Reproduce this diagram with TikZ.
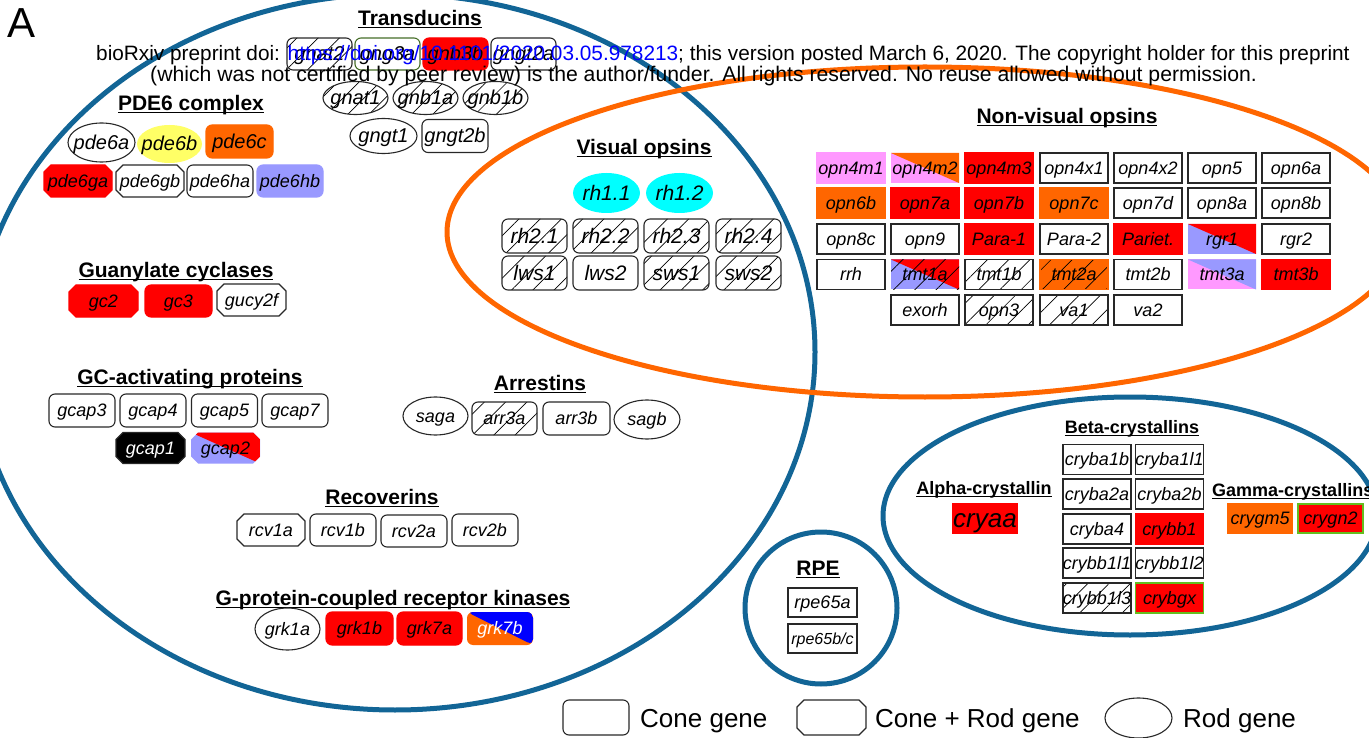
\documentclass[tikz,border=0pt]{standalone}
\usepackage{fontspec}
\setmainfont{Liberation Sans}
\usetikzlibrary{shapes.geometric,shapes.misc,patterns.meta}
\definecolor{eblue}{RGB}{18,101,150}
\definecolor{eorange}{RGB}{255,102,0}
\definecolor{gred}{RGB}{255,0,0}
\definecolor{glav}{RGB}{153,153,255}
\definecolor{gpink}{RGB}{255,153,255}
\definecolor{gcyan}{RGB}{0,255,255}
\definecolor{gyellow}{RGB}{255,255,102}
\definecolor{gorange}{RGB}{255,102,0}
\definecolor{gblue}{RGB}{0,0,255}
\definecolor{bord}{RGB}{40,40,40}
\definecolor{dkgreen}{RGB}{70,110,40}
\definecolor{ltgreen}{RGB}{100,190,30}
\definecolor{linkblue}{RGB}{0,0,255}
\newcommand{\gn}[1]{\makebox[0pt][c]{#1}}
\newcommand{\ulbox}[1]{\setbox0\hbox{#1}\rlap{\rule[-0.15em]{\wd0}{0.075em}}\box0}
\newcommand{\hatchfill}{\fill[pattern={Lines[angle=45,distance=15pt,line width=0.7pt]}] (path picture bounding box.south west) rectangle (path picture bounding box.north east);}
\tikzset{
  fA/.style={font=\itshape\fontsize{18}{18}\selectfont, text height=16.3pt, text depth=3.8pt},
  fB/.style={font=\itshape\fontsize{20}{20}\selectfont, text height=18.1pt, text depth=4.2pt},
  fC/.style={font=\itshape\fontsize{21}{21}\selectfont, text height=19pt, text depth=4.5pt},
  fD/.style={font=\itshape\fontsize{16}{16}\selectfont, text height=14.5pt, text depth=3.4pt},
  fE/.style={font=\itshape\fontsize{26}{26}\selectfont, text height=23.5pt, text depth=5.5pt},
  gene/.style={inner sep=0pt, minimum width=66pt, minimum height=32pt, fA, line width=1.1pt},
  cone/.style={gene, rectangle, rounded corners=6pt, draw=bord},
  conerod/.style={gene, chamfered rectangle, chamfered rectangle xsep=7pt, draw=bord},
  rod/.style={gene, ellipse, draw=bord},
  sq/.style={gene, rectangle, draw=bord, minimum width=68pt, minimum height=30pt},
  hatch/.style={path picture={\hatchfill}},
  colfill/.style={fill=#1, draw=#1},
  twotone/.style 2 args={fill=#1, draw=none, path picture={\fill[#2] (path picture bounding box.north west) -- (path picture bounding box.north east) -- (path picture bounding box.south east) -- cycle;}},
  grouptitle/.style={inner sep=0pt, font=\bfseries\fontsize{21}{21}\selectfont, text height=19pt, text depth=4.5pt},
  smalltitle/.style={inner sep=0pt, font=\bfseries\fontsize{18}{18}\selectfont, text height=16.3pt, text depth=3.8pt},
  legtext/.style={inner sep=0pt, font=\fontsize{26}{26}\selectfont, anchor=base west},
}
\begin{document}
\begin{tikzpicture}[x=1pt,y=-1pt]
\useasboundingbox (0,0) rectangle (1369,738);
\clip (0,0) rectangle (1369,738);
\fill[white] (0,0) rectangle (1369,738);

% group outlines
\draw[eblue,line width=5pt] (395,352) ellipse [x radius=420, y radius=358];
\draw[eorange,line width=5pt] (925,232) ellipse [x radius=478, y radius=165];
\draw[eblue,line width=5pt] (1130,516) ellipse [x radius=247, y radius=119];
\draw[eblue,line width=5pt] (821,608) circle [radius=76];

% Transducins
\node[grouptitle] (tTrans) at (420,18) {\ulbox{Transducins}};
\node[cone,hatch,fB,minimum width=65pt] (gnat2) at (319.5,54) {\gn{gnat2}};
\node[cone,draw=dkgreen,fB,minimum width=65pt] (gng3a) at (387.5,54) {\gn{gng3a}};
\node[cone,colfill=gred,fB,minimum width=65pt] (gnb3b) at (455.5,54) {\gn{gnb3b}};
\node[cone,fB,minimum width=65pt] (gngt2a) at (523.5,54) {\gn{gngt2a}};
\node[rod,hatch,fB,minimum width=65pt,minimum height=33pt] (gnat1) at (355.5,98) {\gn{gnat1}};
\node[rod,hatch,fB,minimum width=65pt,minimum height=33pt] (gnb1a) at (425.5,98) {\gn{gnb1a}};
\node[rod,hatch,fB,minimum width=65pt,minimum height=33pt] (gnb1b) at (495.5,98) {\gn{gnb1b}};
\node[rod,fB,minimum width=67pt,minimum height=35pt] (gngt1) at (383.5,136) {\gn{gngt1}};
\node[cone,fB,minimum height=33pt] (gngt2b) at (455,136) {\gn{gngt2b}};

% PDE6
\node[grouptitle] (tPde) at (191,103) {\ulbox{PDE6 complex}};
\node[rod,fB,minimum width=67pt,minimum height=39pt] (pde6a) at (101.5,142.5) {\gn{pde6a}};
\node[rod,fill=gyellow,draw=none,fB,minimum width=65pt,minimum height=38pt] (pde6b) at (169.5,144) {\gn{pde6b}};
\node[cone,colfill=gorange,fB,minimum width=67pt,minimum height=33pt] (pde6c) at (239.5,141.5) {\gn{pde6c}};
\node[conerod,colfill=gred,minimum width=68pt] (pde6ga) at (78,181) {\gn{pde6ga}};
\node[conerod,minimum width=68pt] (pde6gb) at (150,181) {\gn{pde6gb}};
\node[cone] (pde6ha) at (220,181) {\gn{pde6ha}};
\node[cone,colfill=glav] (pde6hb) at (290,181) {\gn{pde6hb}};

% Guanylate cyclases
\node[grouptitle] (tGc) at (176,270) {\ulbox{Guanylate cyclases}};
\node[conerod,colfill=gred,minimum width=69pt] (gc2) at (103.5,301) {\gn{gc2}};
\node[cone,colfill=gred,minimum width=67pt] (gc3) at (178.5,301) {\gn{gc3}};
\node[conerod,minimum width=69pt] (gucy2f) at (251.5,300) {\gn{gucy2f}};

% GC-activating proteins
\node[grouptitle] (tGcap) at (190,377) {\ulbox{GC-activating proteins}};
\node[cone,minimum height=33pt] (gcap3) at (82,410.5) {\gn{gcap3}};
\node[cone,minimum height=33pt] (gcap4) at (153,410.5) {\gn{gcap4}};
\node[cone,minimum height=33pt] (gcap5) at (224.5,410.5) {\gn{gcap5}};
\node[cone,minimum height=33pt] (gcap7) at (295,410.5) {\gn{gcap7}};
\node[conerod,fill=black,text=white,minimum width=69pt,minimum height=31pt] (gcap1) at (150.5,448) {\gn{gcap1}};
\node[conerod,twotone={glav}{gred},minimum width=69pt,minimum height=31pt] (gcap2) at (225.5,448) {\gn{gcap2}};

% Arrestins
\node[grouptitle] (tArr) at (540,383) {\ulbox{Arrestins}};
\node[rod,minimum width=65pt,minimum height=38pt] (saga) at (435.5,416) {\gn{saga}};
\node[cone,hatch,minimum width=65pt,minimum height=33pt] (arr3a) at (504.5,418.5) {\gn{arr3a}};
\node[cone,minimum width=67pt,minimum height=33pt] (arr3b) at (576.5,418.5) {\gn{arr3b}};
\node[rod,minimum width=66pt,minimum height=39pt] (sagb) at (647,419.5) {\gn{sagb}};

% Recoverins
\node[grouptitle] (tRcv) at (382,497) {\ulbox{Recoverins}};
\node[conerod,minimum width=68pt] (rcv1a) at (271,530) {\gn{rcv1a}};
\node[cone] (rcv1b) at (343,530) {\gn{rcv1b}};
\node[cone] (rcv2a) at (414,531) {\gn{rcv2a}};
\node[cone] (rcv2b) at (485,530) {\gn{rcv2b}};

% GRK
\node[grouptitle] (tGrk) at (393,598) {\ulbox{G-protein-coupled receptor kinases}};
\node[rod,minimum width=65pt,minimum height=42pt] (grk1a) at (287.5,629) {\gn{grk1a}};
\node[cone,colfill=gred,minimum width=67pt,minimum height=33pt] (grk1b) at (359.5,628.5) {\gn{grk1b}};
\node[cone,colfill=gred,minimum width=65pt,minimum height=33pt] (grk7a) at (429.5,628.5) {\gn{grk7a}};
\node[cone,twotone={gorange}{gblue},text=white,minimum width=66pt,minimum height=33pt] (grk7b) at (500,628.5) {\gn{grk7b}};

% Visual opsins
\node[grouptitle] (tVis) at (644,147) {\ulbox{Visual opsins}};
\node[rod,fill=gcyan,draw=none,fC,minimum width=67pt,minimum height=40pt] (rhAa) at (606.5,193) {\gn{rh1.1}};
\node[rod,fill=gcyan,draw=none,fC,minimum width=67pt,minimum height=40pt] (rhAb) at (679.5,193) {\gn{rh1.2}};
\node[cone,hatch,fC,minimum width=65pt,minimum height=34pt] (rhBa) at (534.5,236) {\gn{rh2.1}};
\node[cone,hatch,fC,minimum width=65pt,minimum height=34pt] (rhBb) at (605.5,236) {\gn{rh2.2}};
\node[cone,hatch,fC,minimum width=65pt,minimum height=34pt] (rhBc) at (676.5,236) {\gn{rh2.3}};
\node[cone,hatch,fC,minimum width=65pt,minimum height=34pt] (rhBd) at (748.5,236) {\gn{rh2.4}};
\node[cone,hatch,fC,minimum width=65pt,minimum height=34pt] (lws1) at (534.5,273) {\gn{lws1}};
\node[cone,fC,minimum width=65pt,minimum height=34pt] (lws2) at (605.5,273) {\gn{lws2}};
\node[cone,hatch,fC,minimum width=65pt,minimum height=34pt] (sws1) at (676.5,273) {\gn{sws1}};
\node[cone,hatch,fC,minimum width=65pt,minimum height=34pt] (sws2) at (748.5,273) {\gn{sws2}};

% Non-visual opsins
\node[grouptitle] (tNon) at (1067,116) {\ulbox{Non-visual opsins}};
\node[sq,colfill=gpink] (opn4m1) at (851,168) {\gn{opn4m1}};
\node[sq,twotone={gpink}{gorange}] (opn4m2) at (925,168) {\gn{opn4m2}};
\node[sq,colfill=gred] (opn4m3) at (999,168) {\gn{opn4m3}};
\node[sq] (opn4x1) at (1074,168) {\gn{opn4x1}};
\node[sq] (opn4x2) at (1148,168) {\gn{opn4x2}};
\node[sq] (opn5) at (1222,168) {\gn{opn5}};
\node[sq] (opn6a) at (1296,168) {\gn{opn6a}};
\node[sq,colfill=gorange] (opn6b) at (851,203) {\gn{opn6b}};
\node[sq,colfill=gred] (opn7a) at (925,203) {\gn{opn7a}};
\node[sq,colfill=gred] (opn7b) at (999,203) {\gn{opn7b}};
\node[sq,colfill=gorange] (opn7c) at (1074,203) {\gn{opn7c}};
\node[sq] (opn7d) at (1148,203) {\gn{opn7d}};
\node[sq] (opn8a) at (1222,203) {\gn{opn8a}};
\node[sq] (opn8b) at (1296,203) {\gn{opn8b}};
\node[sq] (opn8c) at (851,239) {\gn{opn8c}};
\node[sq] (opn9) at (925,239) {\gn{opn9}};
\node[sq,colfill=gred] (para1) at (999,239) {\gn{Para-1}};
\node[sq] (para2) at (1074,239) {\gn{Para-2}};
\node[sq,colfill=gred] (pariet) at (1148,239) {\gn{Pariet.}};
\node[sq,twotone={glav}{gred}] (rgr1) at (1222,239) {\gn{rgr1}};
\node[sq] (rgr2) at (1296,239) {\gn{rgr2}};
\node[sq] (rrh) at (851,274.5) {\gn{rrh}};
\node[sq,fill=glav,draw=none,path picture={\fill[gred] (path picture bounding box.north west) -- (path picture bounding box.north east) -- (path picture bounding box.south east) -- cycle; \hatchfill}] (tmt1a) at (925,274.5) {\gn{tmt1a}};
\node[sq,hatch] (tmt1b) at (999,274.5) {\gn{tmt1b}};
\node[sq,colfill=gorange,hatch] (tmt2a) at (1074,274.5) {\gn{tmt2a}};
\node[sq] (tmt2b) at (1148,274.5) {\gn{tmt2b}};
\node[sq,twotone={gpink}{glav}] (tmt3a) at (1222,274.5) {\gn{tmt3a}};
\node[sq,colfill=gred] (tmt3b) at (1296,274.5) {\gn{tmt3b}};
\node[sq] (exorh) at (925,310) {\gn{exorh}};
\node[sq,hatch] (opn3) at (999,310) {\gn{opn3}};
\node[sq,hatch] (va1) at (1074,310) {\gn{va1}};
\node[sq] (va2) at (1148,310) {\gn{va2}};

% Crystallins
\node[smalltitle] (tAlpha) at (984,488) {\ulbox{Alpha-crystallin}};
\node[sq,colfill=gred,fE,minimum width=64pt,minimum height=29pt] (cryaa) at (985,518.5) {\gn{cryaa}};
\node[smalltitle] (tBeta) at (1132,427) {\ulbox{Beta-crystallins}};
\node[sq] (cryba1b) at (1097,459.5) {\gn{cryba1b}};
\node[sq] (cryba1l1) at (1169.5,459.5) {\gn{cryba1l1}};
\node[sq] (cryba2a) at (1097,494) {\gn{cryba2a}};
\node[sq] (cryba2b) at (1169.5,494) {\gn{cryba2b}};
\node[sq] (cryba4) at (1097,529) {\gn{cryba4}};
\node[sq,colfill=gred] (crybb1) at (1169.5,529) {\gn{crybb1}};
\node[sq] (crybb1l1) at (1097,563) {\gn{crybb1l1}};
\node[sq] (crybb1l2) at (1169.5,563) {\gn{crybb1l2}};
\node[sq,hatch] (crybb1l3) at (1097,598) {\gn{crybb1l3}};
\node[sq,fill=gred,draw=ltgreen] (crybgx) at (1169.5,598) {\gn{crybgx}};
\node[smalltitle,anchor=west] (tGamma) at (1212,490) {\ulbox{Gamma-crystallins}};
\node[sq,colfill=gorange,minimum width=64pt,minimum height=29pt] (crygm5) at (1260,518.5) {\gn{crygm5}};
\node[sq,fill=gred,draw=ltgreen,minimum width=65pt,minimum height=29pt] (crygn2) at (1330.5,518.5) {\gn{crygn2}};

% RPE
\node[grouptitle] (tRpe) at (818,568) {\ulbox{RPE}};
\node[sq,minimum width=69pt,minimum height=29pt] (rpe65a) at (822.5,602.5) {\gn{rpe65a}};
\node[sq,fD,minimum width=69pt,minimum height=29pt] (rpe65bc) at (822.5,638.5) {\gn{rpe65b/c}};

% Legend
\node[cone,minimum width=66pt,minimum height=35pt] (legCone) at (596,717.5) {};
\node[legtext] (legConeT) at (640,727) {Cone gene};
\node[conerod,minimum width=69pt,minimum height=35pt] (legBoth) at (831.5,717.5) {};
\node[legtext] (legBothT) at (875,727) {Cone + Rod gene};
\node[rod,minimum width=67pt,minimum height=40pt] (legRod) at (1138.5,718) {};
\node[legtext] (legRodT) at (1183,727) {Rod gene};

% Panel letter and preprint header
\node[inner sep=0pt,anchor=base west,font=\fontsize{42}{42}\selectfont] (panelA) at (7,38) {A};
\node[inner sep=0pt,anchor=base west,font=\fontsize{20.8}{20.8}\selectfont] (hdrA) at (96,61) {bioRxiv preprint doi: \textcolor{linkblue}{https://doi.org/10.1101/2020.03.05.978213}; this version posted March 6, 2020. The copyright holder for this preprint};
\node[inner sep=0pt,anchor=base west,font=\fontsize{21.2}{21.2}\selectfont] (hdrB) at (150,82) {(which was not certified by peer review) is the author/funder. All rights reserved. No reuse allowed without permission.};
\end{tikzpicture}
\end{document}
